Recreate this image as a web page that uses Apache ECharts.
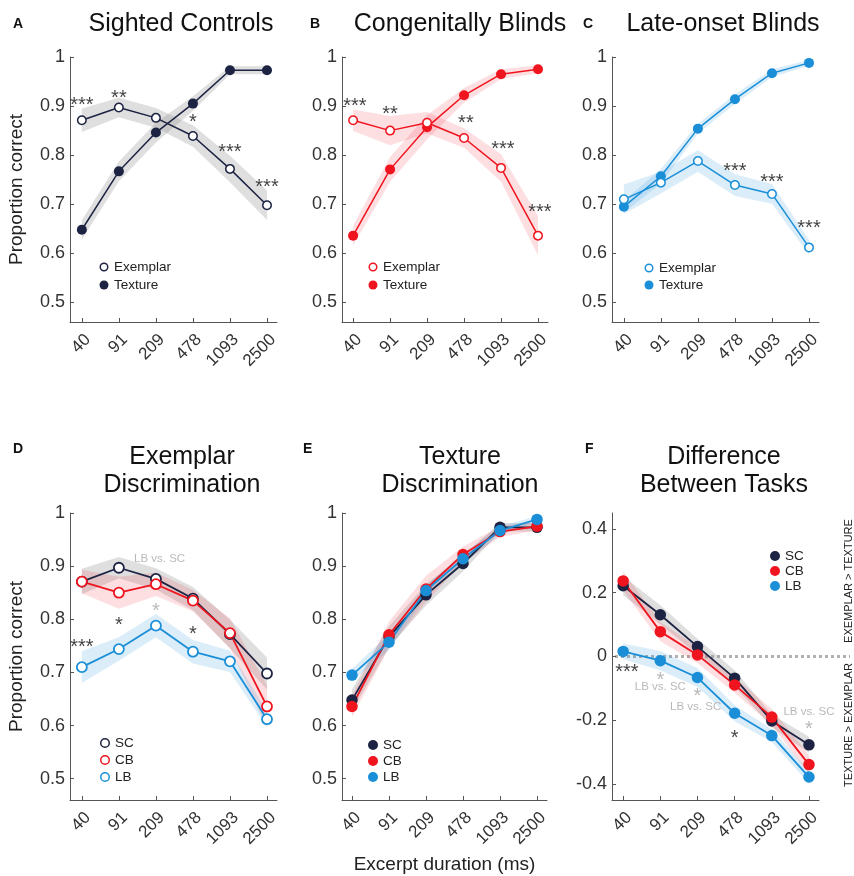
<!DOCTYPE html>
<html><head><meta charset="utf-8">
<script src="https://cdn.jsdelivr.net/npm/echarts@6/dist/echarts.min.js"></script>
<style>html,body{margin:0;padding:0;background:#fff}#c{width:854px;height:876px}</style>
</head><body><div id="c"></div><script>
// ---------- data ----------
const durations = ['40', '91', '209', '478', '1093', '2500'];
const propTicks = [0.5, 0.6, 0.7, 0.8, 0.9, 1];
const diffTicks = [-0.4, -0.2, 0, 0.2, 0.4];

const scExemplar = [0.871, 0.897, 0.876, 0.839, 0.772, 0.698];
const scTexture  = [0.648, 0.767, 0.846, 0.905, 0.973, 0.973];
const cbExemplar = [0.871, 0.850, 0.866, 0.835, 0.774, 0.636];
const cbTexture  = [0.636, 0.771, 0.857, 0.922, 0.965, 0.975];
const lbExemplar = [0.710, 0.744, 0.788, 0.739, 0.721, 0.612];
const lbTexture  = [0.695, 0.757, 0.854, 0.914, 0.967, 0.988];

const scExemplarSem = [0.024, 0.020, 0.020, 0.022, 0.027, 0.030];
const scTextureSem  = [0.020, 0.020, 0.020, 0.015, 0.008, 0.008];
const cbExemplarSem = [0.022, 0.030, 0.022, 0.020, 0.028, 0.040];
const cbTextureSem  = [0.020, 0.025, 0.025, 0.015, 0.010, 0.008];
const lbExemplarSem = [0.030, 0.022, 0.022, 0.022, 0.020, 0.015];
const lbTextureSem  = [0.012, 0.015, 0.010, 0.010, 0.008, 0.006];

const scDiff = [0.222, 0.131, 0.031, -0.068, -0.202, -0.277];
const cbDiff = [0.237, 0.078, 0.005, -0.089, -0.190, -0.339];
const lbDiff = [0.016, -0.013, -0.066, -0.178, -0.248, -0.378];
const scDiffSem = [0.030, 0.030, 0.025, 0.025, 0.020, 0.025];
const cbDiffSem = [0.030, 0.030, 0.025, 0.025, 0.025, 0.030];
const lbDiffSem = [0.025, 0.030, 0.030, 0.025, 0.020, 0.020];

// annotations: [x position, y value, text, gray?]
const notesA = [[0, 0.912, '***'], [1, 0.925, '**'], [3, 0.876, '*'], [4, 0.816, '***'], [5, 0.745, '***']];
const notesB = [[0.05, 0.910, '***'], [1, 0.893, '**'], [3.05, 0.874, '**'], [4.05, 0.821, '***'], [5.05, 0.694, '***']];
const notesC = [[3, 0.776, '***'], [4, 0.755, '***'], [5, 0.660, '***']];
const notesD = [[2.1, 0.913, 'LB vs. SC', 1], [2, 0.825, '*', 1], [1, 0.797, '*'], [3, 0.781, '*'], [0, 0.756, '***']];
const notesF = [[0.1, -0.034, '***'], [1, -0.061, '*', 1], [1, -0.094, 'LB vs. SC', 1], [2, -0.110, '*', 1],
                [1.95, -0.159, 'LB vs. SC', 1], [3, -0.242, '*'], [5, -0.175, 'LB vs. SC', 1], [5, -0.214, '*', 1]];

// ---------- styles ----------
const FONT = 'Liberation Sans, Arial, Helvetica, sans-serif';
const C_SC = '#1d2342', C_CB = '#f0141e', C_LB = '#1a8fd8';
const B_SC = 'rgba(150,150,150,0.30)', B_CB = 'rgba(240,40,60,0.15)', B_LB = 'rgba(40,150,220,0.17)';
const GRAY = '#a8a8a8';

const grids = [
  {left: 70,  top: 57,  width: 207, height: 265},
  {left: 342, top: 57,  width: 206, height: 265},
  {left: 612, top: 57,  width: 207, height: 265},
  {left: 70,  top: 513, width: 207, height: 287},
  {left: 342, top: 513, width: 205, height: 287},
  {left: 612, top: 513, width: 207, height: 287}
];
const xMins = [-0.32, -0.30, -0.32, -0.32, -0.27, -0.30];

const xAxes = grids.map((g, i) => ({
  type: 'value', gridIndex: i, min: xMins[i], max: 5.27,
  axisLine: {show: true, onZero: false, lineStyle: {color: '#555', width: 1}},
  axisTick: {show: true, inside: true, length: 4, customValues: [0, 1, 2, 3, 4, 5], lineStyle: {color: '#555'}},
  splitLine: {show: false},
  axisLabel: {show: true, customValues: [0, 1, 2, 3, 4, 5], formatter: v => durations[Math.round(v)],
    rotate: 45, align: 'right', verticalAlign: 'top', margin: 9, fontSize: 17, color: '#333', fontFamily: FONT},
  name: i === 4 ? 'Excerpt duration (ms)' : '', nameLocation: 'middle', nameGap: 55,
  nameTextStyle: {fontSize: 19, color: '#222', fontFamily: FONT}
}));
const yAxes = grids.map((g, i) => {
  const isDiff = i === 5;
  const ticks = isDiff ? diffTicks : propTicks;
  return {
    type: 'value', gridIndex: i, min: isDiff ? -0.45 : 0.46, max: isDiff ? 0.45 : 1,
    axisLine: {show: true, onZero: false, lineStyle: {color: '#555', width: 1}},
    axisTick: {show: true, inside: true, length: 4, customValues: ticks, lineStyle: {color: '#555'}},
    splitLine: {show: false},
    axisLabel: {show: true, customValues: ticks, formatter: v => String(v), margin: 5,
      fontSize: 18, color: '#333', fontFamily: FONT},
    name: (i === 0 || i === 3) ? 'Proportion correct' : '', nameLocation: 'middle', nameGap: 44,
    nameTextStyle: {fontSize: 19, color: '#222', fontFamily: FONT}
  };
});

function band(gi, vals, sem, fill) {
  return {
    type: 'custom', xAxisIndex: gi, yAxisIndex: gi, z: 1, silent: true,
    data: [[0, vals[0]]],
    renderItem: (params, api) => {
      const up = vals.map((v, k) => api.coord([k, v + sem[k]]));
      const lo = vals.map((v, k) => api.coord([k, v - sem[k]])).reverse();
      return {type: 'polygon', shape: {points: up.concat(lo)}, style: {fill: fill}};
    }
  };
}
function line(gi, vals, color, hollow, big) {
  const w = big ? 1.8 : 1.5;
  return {
    type: 'line', xAxisIndex: gi, yAxisIndex: gi, z: 3,
    data: vals.map((v, k) => [k, v]),
    symbol: 'circle', symbolSize: hollow ? (big ? 10 : 8.5) : (big ? 11.5 : 10),
    lineStyle: {color: color, width: w},
    itemStyle: hollow ? {color: '#fff', borderColor: color, borderWidth: big ? 1.8 : 1.5}
                      : {color: color, borderWidth: 0},
    emphasis: {disabled: true}
  };
}
function notes(gi, arr) {
  return {
    type: 'scatter', xAxisIndex: gi, yAxisIndex: gi, z: 5, silent: true,
    symbolSize: 1, itemStyle: {color: 'rgba(0,0,0,0)'},
    data: arr.map(n => {
      const isStar = n[2].indexOf('*') >= 0;
      return {
        value: [n[0], n[1]],
        label: {show: true, position: 'inside', formatter: n[2],
          color: n[3] ? GRAY : '#111', fontSize: isStar ? 20 : 11.5, fontFamily: FONT,
          offset: [0, isStar ? 5 : 0]}
      };
    })
  };
}

const series = [
  band(0, scExemplar, scExemplarSem, B_SC), band(0, scTexture, scTextureSem, B_SC),
  line(0, scTexture, C_SC, false), line(0, scExemplar, C_SC, true), notes(0, notesA),

  band(1, cbExemplar, cbExemplarSem, B_CB), band(1, cbTexture, cbTextureSem, B_CB),
  line(1, cbTexture, C_CB, false), line(1, cbExemplar, C_CB, true), notes(1, notesB),

  band(2, lbExemplar, lbExemplarSem, B_LB), band(2, lbTexture, lbTextureSem, B_LB),
  line(2, lbTexture, C_LB, false), line(2, lbExemplar, C_LB, true), notes(2, notesC),

  band(3, scExemplar, scExemplarSem, B_SC), band(3, cbExemplar, cbExemplarSem, B_CB), band(3, lbExemplar, lbExemplarSem, B_LB),
  line(3, scExemplar, C_SC, true, true), line(3, cbExemplar, C_CB, true, true), line(3, lbExemplar, C_LB, true, true),
  notes(3, notesD),

  band(4, scTexture, scTextureSem, B_SC), band(4, cbTexture, cbTextureSem, B_CB), band(4, lbTexture, lbTextureSem, B_LB),
  line(4, scTexture, C_SC, false, true), line(4, cbTexture, C_CB, false, true), line(4, lbTexture, C_LB, false, true),

  band(5, scDiff, scDiffSem, B_SC), band(5, cbDiff, cbDiffSem, B_CB), band(5, lbDiff, lbDiffSem, B_LB),
  line(5, scDiff, C_SC, false, true), line(5, cbDiff, C_CB, false, true), line(5, lbDiff, C_LB, false, true),
  notes(5, notesF)
];

function ttl(text, x, y, size, bold, align, lh) {
  return {text: text, left: x, top: y, padding: 0, textAlign: align || 'left',
    textStyle: {fontSize: size, fontWeight: bold ? 'bold' : 'normal', color: '#111', fontFamily: FONT, lineHeight: lh || size * 1.15}};
}
const titles = [
  ttl('A', 13, 16, 14, true), ttl('Sighted Controls', 181, 10, 25, false, 'center'),
  ttl('B', 310, 16, 14, true), ttl('Congenitally Blinds', 460, 10, 25, false, 'center'),
  ttl('C', 583, 16, 14, true), ttl('Late-onset Blinds', 723, 10, 25, false, 'center'),
  ttl('D', 13, 441, 14, true), ttl('Exemplar\nDiscrimination', 182, 443, 25, false, 'center', 28),
  ttl('E', 303, 441, 14, true), ttl('Texture\nDiscrimination', 460, 443, 25, false, 'center', 28),
  ttl('F', 585, 441, 14, true), ttl('Difference\nBetween Tasks', 724, 443, 25, false, 'center', 28)
];

// legends (decoration)
const legendItems = [
  [104, 267, 'Exemplar', C_SC, true, 9], [104, 285, 'Texture', C_SC, false, 9],
  [373, 267, 'Exemplar', C_CB, true, 9], [373, 285, 'Texture', C_CB, false, 9],
  [649, 268, 'Exemplar', C_LB, true, 9], [649, 285, 'Texture', C_LB, false, 9],
  [105, 743, 'SC', C_SC, true, 10], [105, 760, 'CB', C_CB, true, 10], [105, 777, 'LB', C_LB, true, 10],
  [373, 745, 'SC', C_SC, false, 10], [373, 761, 'CB', C_CB, false, 10], [373, 777, 'LB', C_LB, false, 10],
  [775, 556, 'SC', C_SC, false, 10], [775, 571, 'CB', C_CB, false, 10], [775, 586, 'LB', C_LB, false, 10]
];
const graphics = [];
legendItems.forEach(it => {
  const [x, y, t, c, hollow, d] = it;
  graphics.push({type: 'circle', shape: {cx: x, cy: y, r: hollow ? d / 2 - 0.75 : d / 2},
    style: hollow ? {fill: '#fff', stroke: c, lineWidth: 1.5} : {fill: c}, z: 10});
  graphics.push({type: 'text', x: x + 10, y: y, z: 10,
    style: {text: t, fontSize: 13.5, fill: '#222', fontFamily: FONT, verticalAlign: 'middle', align: 'left'}});
});
graphics.push({type: 'text', x: 849, y: 581, rotation: Math.PI / 2,
  style: {text: 'EXEMPLAR > TEXTURE', fontSize: 11, fill: '#222', fontFamily: FONT, align: 'center', verticalAlign: 'middle'}});
graphics.push({type: 'text', x: 849, y: 725, rotation: Math.PI / 2,
  style: {text: 'TEXTURE > EXEMPLAR', fontSize: 11, fill: '#222', fontFamily: FONT, align: 'center', verticalAlign: 'middle'}});

const chart = echarts.init(document.getElementById('c'), null, {renderer: 'canvas'});
chart.setOption({
  animation: false,
  backgroundColor: '#fff',
  title: titles,
  grid: grids,
  xAxis: xAxes,
  yAxis: yAxes,
  series: series,
  graphic: graphics
});
// dotted zero line in panel F (extends to the right margin text)
const p0 = chart.convertToPixel({xAxisIndex: 5, yAxisIndex: 5}, [xMins[5], 0]);
graphics.push({type: 'line', shape: {x1: p0[0] + 3, y1: p0[1], x2: 850, y2: p0[1]}, z: 0,
  style: {stroke: '#b0b0b0', lineWidth: 3, lineDash: [3, 3]}});
chart.setOption({graphic: graphics});
</script></body></html>
